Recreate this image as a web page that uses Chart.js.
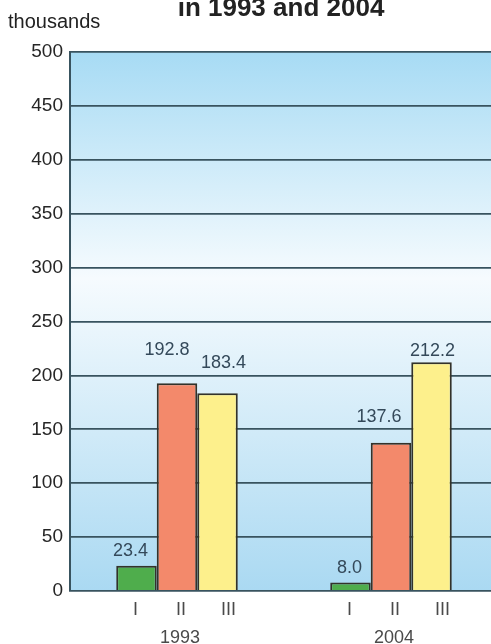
<html>
<head>
<script src="https://cdn.jsdelivr.net/npm/chart.js@4.4.1/dist/chart.umd.min.js"></script>
<style>
  body { margin: 0; overflow: hidden; background: #fff; }
</style>
</head>

<body>
<div class="chart-container" style="position: relative; width: 498px; height: 644px">
  <canvas id="chart"></canvas>
</div>

<script>
// values, thousands
let years = ['1993', '2004']
let groups = ['I', 'II', 'III']
let groupI = [23.4, 8.0]
let groupII = [192.8, 137.6]
let groupIII = [183.4, 212.2]
let yTicks = [0, 50, 100, 150, 200, 250, 300, 350, 400, 450, 500]

const FONT = '"Liberation Sans", Arial, sans-serif'

// sky gradient behind the bars
const bgPlugin = {
  id: 'bg',
  beforeDraw(chart) {
    const { ctx, chartArea: a } = chart
    let g = ctx.createLinearGradient(0, a.top, 0, a.bottom)
    g.addColorStop(0, '#a7dbf4')
    g.addColorStop(0.42, '#f6fbfe')
    g.addColorStop(1, '#aad9f2')
    ctx.save()
    ctx.fillStyle = g
    ctx.fillRect(a.left, a.top, a.right - a.left, a.bottom - a.top)
    ctx.restore()
  }
}

// title line, unit, value labels and roman numerals
const textPlugin = {
  id: 'texts',
  afterDraw(chart, args, opts) {
    const ctx = chart.ctx
    ctx.save()
    ctx.textAlign = 'center'
    ctx.textBaseline = 'alphabetic'
    ctx.fillStyle = '#222'
    ctx.font = 'bold 26px ' + FONT
    ctx.fillText('in 1993 and 2004', 281, 16)

    ctx.textAlign = 'left'
    ctx.font = '20px ' + FONT
    ctx.fillStyle = '#222'
    ctx.fillText('thousands', 8, 28)

    ctx.textAlign = 'center'
    ctx.textBaseline = 'middle'
    chart.data.datasets.forEach((ds, di) => {
      let meta = chart.getDatasetMeta(di)
      meta.data.forEach((bar, i) => {
        let off = opts.valueOffsets[i][di]
        ctx.font = '18px ' + FONT
        ctx.fillStyle = '#34495a'
        ctx.fillText(ds.data[i].toFixed(1), bar.x + off[0], bar.y - off[1])
        ctx.fillStyle = '#4a4a4a'
        ctx.fillText(groups[di], bar.x + opts.romanOffsets[di], 610)
      })
    })
    ctx.restore()
  }
}

function renderChart(elId) {
  const ctx = document.getElementById(elId).getContext('2d')
  const colors = ['#4fad4c', '#f3896b', '#fdf08c']
  const values = [groupI, groupII, groupIII]
  let datasets = groups.map((g, i) => ({
    label: g,
    data: values[i],
    backgroundColor: colors[i],
    borderColor: '#33322a',
    borderWidth: 2,
    barPercentage: 1,
    categoryPercentage: 0.568,
  }))

  new Chart(ctx, {
    type: 'bar',
    data: { labels: years, datasets },
    plugins: [bgPlugin, textPlugin],
    options: {
      responsive: true,
      maintainAspectRatio: false,
      animation: false,
      layout: { padding: { top: 52, bottom: 0, left: 0, right: 0 } },
      plugins: {
        legend: { display: false },
        tooltip: { enabled: false },
        texts: {
          valueOffsets: [
            [[-6, 15], [-10, 33], [6, 30]],
            [[-1, 14], [-12, 26], [1, 11]],
          ],
          romanOffsets: [-1, 4, 11],
        },
      },
      scales: {
        x: {
          grid: { display: false, drawTicks: false },
          border: { display: false },
          ticks: { color: '#4a4a4a', font: { family: FONT, size: 18 }, padding: 36, labelOffset: 3 },
          afterFit(scale) { scale.height = 53 },
        },
        y: {
          min: 0,
          max: 500,
          afterBuildTicks(scale) { scale.ticks = yTicks.map(v => ({ value: v })) },
          grid: { color: '#38535f', lineWidth: 1.8, drawTicks: false },
          border: { display: true, color: '#38535f', width: 2 },
          ticks: { color: '#262626', font: { family: FONT, size: 19 }, padding: 7 },
          afterFit(scale) { scale.width = 70 },
        },
      },
    },
  })
}

window.onload = function () {
  renderChart('chart')
}
</script>

</body>
</html>
